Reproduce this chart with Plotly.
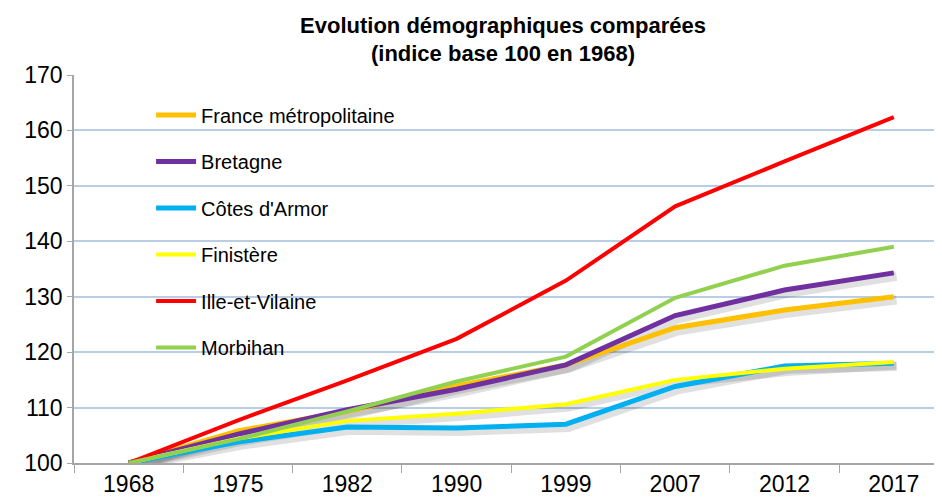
import plotly.graph_objects as go

years = ["1968", "1975", "1982", "1990", "1999", "2007", "2012", "2017"]

france = [100, 105.8, 109.3, 113.9, 117.7, 124.4, 127.6, 130.0]
bretagne = [100, 105.2, 109.6, 113.3, 117.7, 126.6, 131.2, 134.3]
cotes_armor = [100, 103.8, 106.5, 106.3, 107.0, 113.8, 117.5, 118.0]
finistere = [100, 104.4, 107.6, 108.9, 110.6, 115.0, 117.0, 118.2]
ille_vilaine = [100, 107.7, 114.9, 122.4, 132.9, 146.3, 154.4, 162.4]
morbihan = [100, 104.3, 109.3, 114.7, 119.2, 129.8, 135.6, 139.0]

series = [
    ("France métropolitaine", france, "#FFC000", 5, True),
    ("Bretagne", bretagne, "#7030A0", 5, True),
    ("Côtes d'Armor", cotes_armor, "#00B0F0", 5, True),
    ("Finistère", finistere, "#FFFF00", 4, True),
    ("Ille-et-Vilaine", ille_vilaine, "#FF0000", 4, False),
    ("Morbihan", morbihan, "#92D050", 4, False),
]

FONT = "Liberation Sans, Arial, sans-serif"

fig = go.Figure()

# soft drop shadows, drawn on a hidden axis pair shifted a few pixels
for name, vals, color, width, shadow in series:
    if shadow:
        fig.add_trace(go.Scatter(
            x=years, y=vals, mode="lines", xaxis="x", yaxis="y",
            line=dict(color="rgba(0,0,0,0.12)", width=width + 4),
            showlegend=False, hoverinfo="skip"))

for name, vals, color, width, shadow in series:
    fig.add_trace(go.Scatter(
        x=years, y=vals, mode="lines", name=name, xaxis="x2", yaxis="y2",
        legendgroup=name,
        line=dict(color=color, width=width)))

x_range = [-0.5, 7.514]
y_range = [100, 170]
dx, dy = 0.025, 0.6

fig.update_layout(
    width=942, height=501,
    margin=dict(l=66, r=0, t=67, b=46),
    paper_bgcolor="white", plot_bgcolor="white",
    font=dict(family=FONT, color="#000000"),
    title=dict(
        text="<b>Evolution démographiques comparées<br>(indice base 100 en 1968)</b>",
        x=0.5255, xref="container", xanchor="center",
        y=0.951, yref="container", yanchor="top",
        font=dict(family=FONT, size=22, color="#000000")),
    xaxis=dict(type="category", range=[x_range[0] - dx, x_range[1] - dx],
               visible=False, showgrid=False),
    yaxis=dict(range=[y_range[0] + dy, y_range[1] + dy],
               visible=False, showgrid=False),
    xaxis2=dict(type="category", overlaying="x", range=x_range,
                showgrid=False, zeroline=False,
                showline=True, linecolor="#A6A6A6", linewidth=1.5,
                ticks="outside", tickson="boundaries", ticklen=8,
                tickcolor="#A6A6A6",
                tickfont=dict(family=FONT, size=23, color="#000000")),
    yaxis2=dict(overlaying="y", range=y_range, dtick=10,
                showgrid=True, gridcolor="#B9CDE5", gridwidth=1.5,
                zeroline=False,
                showline=True, linecolor="#A6A6A6", linewidth=1.5,
                ticks="outside", ticklen=5, tickcolor="#A6A6A6",
                tickfont=dict(family=FONT, size=23, color="#000000")),
    legend=dict(
        x=0.088, y=0.947, xanchor="left", yanchor="top",
        bgcolor="rgba(0,0,0,0)", borderwidth=0,
        tracegroupgap=17.5, itemwidth=40,
        font=dict(family=FONT, size=20, color="#000000")),
)

fig.write_html("out.html")
